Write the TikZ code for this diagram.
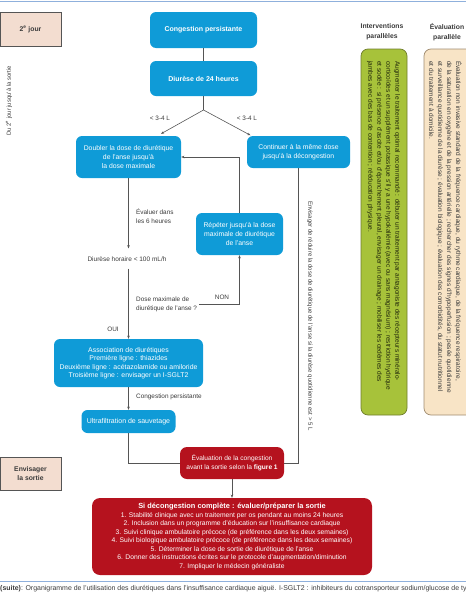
\documentclass[tikz,border=0pt]{standalone}
\usepackage{fontspec}
\setmainfont{Liberation Sans}
\usetikzlibrary{arrows.meta}
\definecolor{bblue}{HTML}{0F9BD7}
\definecolor{dred}{HTML}{B5121E}
\definecolor{lgreen}{HTML}{A7C23A}
\definecolor{gborder}{HTML}{6F7D2C}
\definecolor{beigef}{HTML}{F8E4C6}
\definecolor{bborder}{HTML}{A08C70}
\definecolor{pinkbox}{HTML}{F3DDD0}
\definecolor{txtc}{HTML}{3A3A3A}
\definecolor{rulec}{HTML}{8FB0DC}
\definecolor{linec}{HTML}{555555}
\newcommand\myfs[2]{\fontsize{#1}{#2}\selectfont}
\begin{document}
\begin{tikzpicture}[x=1pt,y=-1pt,
  bluebox/.style={fill=bblue, rounded corners=6pt, text=white, align=center, inner sep=0pt, font=\myfs{6.85}{9}},
  redbox/.style={fill=dred, rounded corners=7pt, text=white, align=center, inner sep=0pt, font=\myfs{6.6}{8.5}},
  sidebox/.style={fill=pinkbox, draw=linec, line width=0.8pt, inner sep=0pt, align=center, font=\bfseries\myfs{6.8}{8.5}, text=txtc},
  lbl/.style={text=txtc, inner sep=0pt, font=\myfs{6.4}{8.7}},
  conn/.style={draw=linec, line width=0.6pt},
  arr/.style={conn, -{Stealth[length=3.2pt,width=2.6pt]}}
]
\useasboundingbox (0,0) rectangle (466,600);
\begin{scope}
\clip (0,0) rectangle (466,600);
% rules
\draw[rulec, line width=1pt] (0,1) -- (466,1);
\draw[rulec, line width=1pt] (0,581) -- (466,581);
% side boxes
\node[sidebox, minimum width=61pt, minimum height=34pt] (day2) at (30.5,29) {2\textsuperscript{e} jour};
\node[sidebox, minimum width=61pt, minimum height=33pt] (exit) at (30.5,473.5) {Envisager\\la sortie};
\node[lbl, rotate=90, font=\myfs{5.9}{8}] (period) at (9,101) {Du 2\textsuperscript{e} jour jusqu'à la sortie};
% headers
\node[lbl, align=center, font=\bfseries\myfs{6.8}{10}] (h1) at (382,32) {Interventions\\parallèles};
\node[lbl, align=center, font=\bfseries\myfs{6.8}{10}] (h2) at (447,32) {Évaluation\\parallèle};
% green box
\node[fill=lgreen, draw=gborder, line width=0.7pt, rounded corners=7pt, minimum width=46pt, minimum height=366pt, inner sep=0pt] (green) at (384,232) {};
\node[inner sep=0pt, rotate=-90, anchor=west, align=left, text=black!80!lgreen, font=\myfs{6.5}{9}] (greentxt) at (383.5,61)
 {Augmenter le traitement optimal recommandé : débuter un traitement par antagoniste des récepteurs minéralo-\\
  corticoïdes et un supplément potassique s'il y a une hypokaliémie (avec ou sans magnésium) ; restriction hydrique\\
  et sodée : si présence d'ascite et/ou d'épanchement pleural, envisager un drainage ; mobiliser les œdèmes des\\
  jambes avec des bas de contention ; rééducation physique.};
% beige box
\node[fill=beigef, draw=bborder, line width=0.7pt, rounded corners=7pt, minimum width=54pt, minimum height=366pt, inner sep=0pt] (beige) at (451,232) {};
\node[inner sep=0pt, rotate=-90, anchor=west, align=left, text=txtc, font=\myfs{6.5}{9}] (beigetxt) at (445.5,61)
 {Évaluation non invasive standard de la fréquence cardiaque, du rythme cardiaque, de la fréquence respiratoire,\\
  de la saturation en oxygène et de la pression artérielle ; rechercher des signes d'hypoperfusion ; pesée quotidienne\\
  et surveillance quotidienne de la diurèse ; évaluation biologique ; évaluation des comorbidités, du statut nutritionnel\\
  et du traitement à domicile.};
% flow boxes
\node[bluebox, font=\bfseries\myfs{7}{9}, minimum width=107pt, minimum height=36pt] (cp) at (203.5,30) {Congestion persistante};
\node[bluebox, font=\bfseries\myfs{7}{9}, minimum width=107pt, minimum height=35pt] (d24) at (203.5,78.5) {Diurèse de 24 heures};
\coordinate (split) at (203.5,110);
\node[bluebox, minimum width=105pt, minimum height=42pt] (doub) at (128.5,157) {Doubler la dose de diurétique\\de l'anse jusqu'à\\la dose maximale};
\node[bluebox, minimum width=103pt, minimum height=32pt] (cont) at (298.5,152) {Continuer à la même dose\\jusqu'à la décongestion};
\node[bluebox, minimum width=87pt, minimum height=42pt] (rep) at (239.5,234) {Répéter jusqu'à la dose\\maximale de diurétique\\de l'anse};
\node[lbl, font=\myfs{6.5}{8.5}] (dh) at (127,259) {Diurèse horaire < 100 mL/h};
\node[lbl, anchor=west, align=left] (q) at (136,304.5) {Dose maximale de\\diurétique de l'anse ?};
\node[bluebox, font=\myfs{6.9}{8.5}, minimum width=149pt, minimum height=48pt] (assoc) at (128.5,363) {Association de diurétiques\\Première ligne : thiazides\\Deuxième ligne : acétazolamide ou amiloride\\Troisième ligne : envisager un I-SGLT2};
\node[bluebox, font=\myfs{7}{9}, minimum width=94pt, minimum height=23pt] (uf) at (128.5,421.5) {Ultrafiltration de sauvetage};
\node[redbox, minimum width=104pt, minimum height=32pt] (eval) at (232,463) {Évaluation de la congestion\\avant la sortie selon la \textbf{figure 1}};
\node[redbox, rounded corners=8pt, font=\myfs{6.75}{8.45}, minimum width=280pt, minimum height=77pt] (big) at (232,536.5)
 {{\bfseries\myfs{7.4}{8.45}Si décongestion complète : évaluer/préparer la sortie}\\
  1. Stabilité clinique avec un traitement per os pendant au moins 24 heures\\
  2. Inclusion dans un programme d'éducation sur l'insuffisance cardiaque\\
  3. Suivi clinique ambulatoire précoce (de préférence dans les deux semaines)\\
  4. Suivi biologique ambulatoire précoce (de préférence dans les deux semaines)\\
  5. Déterminer la dose de sortie de diurétique de l'anse\\
  6. Donner des instructions écrites sur le protocole d'augmentation/diminution\\
  7. Impliquer le médecin généraliste};
% connectors
\draw[conn] (cp.south) -- (d24.north);
\draw[conn] (d24.south) -- (split);
\draw[arr] (split) -- ([xshift=32.5pt,yshift=2pt]doub.north);
\draw[arr] (split) -- ([xshift=-48pt,yshift=0.5pt]cont.north);
\node[lbl] (l1) at (160,118) {< 3-4 L};
\node[lbl] (l2) at (247,118) {< 3-4 L};
\draw[arr] (rep.north) |- (doub.east);
\draw[arr] (doub.south) -- ([yshift=8pt,xshift=1.5pt]dh.north);
\node[lbl, anchor=west, align=left] (ev6) at (136,216) {Évaluer dans\\les 6 heures};
\draw[arr] ([yshift=-7pt,xshift=1.5pt]dh.south) -- (assoc.north);
\draw[arr] ([xshift=2pt]q.east) -| (rep.south);
\node[lbl] (non) at (222,297) {NON};
\node[lbl] (oui) at (113,329) {OUI};
\draw[arr] (assoc.south) -- (uf.north);
\node[lbl, anchor=west] (cpl) at (136,397) {Congestion persistante};
\draw[conn] (uf.south) |- (eval.west);
\draw[conn] (cont.south) |- (eval.east);
\node[lbl, rotate=-90, font=\myfs{6}{8}] (red) at (310,316) {Envisager de réduire la dose de diurétique de l'anse si la diurèse quotidienne est > 5 L};
\draw[arr] (eval.south) -- (big.north);
% caption
\node[lbl, anchor=west, font=\myfs{6.95}{8}] (cap) at (0,589) {\textbf{(suite)}: Organigramme de l'utilisation des diurétiques dans l'insuffisance cardiaque aiguë. I-SGLT2 : inhibiteurs du cotransporteur sodium/glucose de type 2.};
\end{scope}
\end{tikzpicture}
\end{document}
